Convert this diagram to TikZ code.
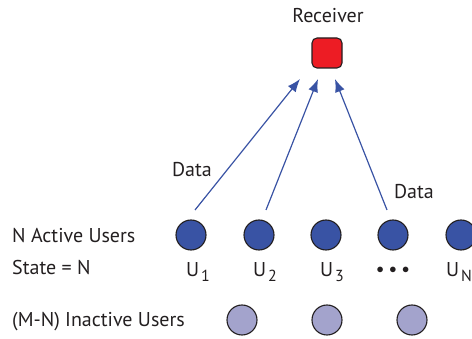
\documentclass[tikz,border=0pt]{standalone}
\usepackage{fontspec}
\setmainfont{PT Sans}
\usetikzlibrary{arrows.meta}
\definecolor{txt}{HTML}{231F20}
\definecolor{act}{HTML}{3953A4}
\definecolor{inact}{HTML}{A3A3CC}
\definecolor{rx}{HTML}{ED1C24}
\newcommand{\usub}[1]{U\kern2pt\raisebox{-5pt}{\fontsize{16}{16}\selectfont #1}}
\tikzset{
  lbl/.style={text=txt,font=\fontsize{20}{20}\selectfont,inner sep=0pt},
  active/.style={circle,draw=txt,line width=1.1pt,fill=act,minimum size=30pt,inner sep=0pt},
  inactive/.style={circle,draw=txt,line width=1.1pt,fill=inact,minimum size=30pt,inner sep=0pt},
  recv/.style={rounded corners=5pt,draw=txt,line width=1.1pt,fill=rx,minimum size=30pt,inner sep=0pt},
  data/.style={draw=act,line width=1.2pt,-{Latex[length=13pt,width=10pt,inset=3pt]}}
}
\begin{document}
\begin{tikzpicture}[x=1pt,y=-1pt]
\useasboundingbox (0,0) rectangle (472,339);
\node[lbl] (rlabel) at (328,16) {Receiver};
\node[recv] (rx) at (327,53) {};
\node[active] (u1) at (191,235) {};
\node[active] (u2) at (259,235) {};
\node[active] (u3) at (326,235) {};
\node[active] (u4) at (393,235) {};
\node[active] (u5) at (461,235) {};
\node[lbl,anchor=base] (l1) at (198,277) {\usub{1}};
\node[lbl,anchor=base] (l2) at (265,277) {\usub{2}};
\node[lbl,anchor=base] (l3) at (332,277) {\usub{3}};
\node[text=txt,inner sep=0pt,font=\fontsize{14}{14}\selectfont] (l4) at (393,270) {$\bullet\,\bullet\,\bullet$};
\node[lbl,anchor=base west] (l5) at (446,277) {\usub{N}};
\node[inactive] (i1) at (242,320) {};
\node[inactive] (i2) at (327,320) {};
\node[inactive] (i3) at (412,320) {};
\node[lbl,anchor=base west] (t1) at (12,243) {N Active Users};
\node[lbl,anchor=base west] (t2) at (12,275) {State = N};
\node[lbl,anchor=base west] (t3) at (12,327) {(M-N) Inactive Users};
\coordinate (a1s) at (195,210);
\coordinate (a1e) at (300,79);
\coordinate (a2s) at (266,210);
\coordinate (a2e) at (318,79);
\coordinate (a3s) at (387,210);
\coordinate (a3e) at (335,79);
\draw[data] (a1s) -- (a1e);
\draw[data] (a2s) -- (a2e);
\draw[data] (a3s) -- (a3e);
\node[lbl,anchor=base] (d1) at (192,177) {Data};
\node[lbl,anchor=base] (d2) at (414,199) {Data};
\end{tikzpicture}
\end{document}
